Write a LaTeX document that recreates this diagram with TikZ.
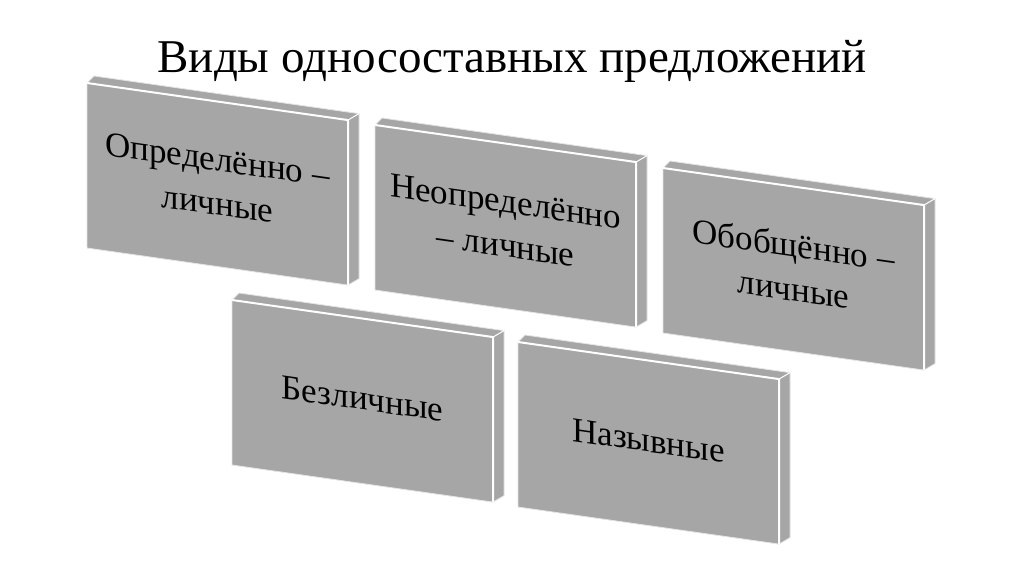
\documentclass[tikz,border=0pt]{standalone}
\usepackage{fontspec}
\setmainfont{Liberation Serif}
\newfontfamily\slabfont{Liberation Serif}
\definecolor{slabgray}{HTML}{A6A6A6}
\definecolor{edgegray}{HTML}{E4E4E4}
\newcommand\drawslab[4]{%
  \begin{scope}[shift={(#2,#3)}, yslant=-0.142]
    \fill[slabgray] (0,0) -- (7,-8) -- (272,-8) -- (261,0) -- cycle;
    \fill[slabgray] (261,0) -- (272,-8) -- (272,157) -- (261,165) -- cycle;
    \fill[slabgray] (0,0) rectangle (261,165);
    \draw[edgegray, line width=0.8pt] (0,165) -- (0,0) -- (7,-8) -- (272,-8) -- (272,157) -- (261,165) -- cycle;
    \draw[white, line width=2pt] (0,0) -- (261,0) -- (261,165);
    \draw[white, line width=1pt] (261,0) -- (272,-8);
    \node[slabtext, transform shape] (#1) at (130.5,80) {#4};
  \end{scope}}
\begin{document}
\begin{tikzpicture}[x=1pt, y=-1pt,
  slabtext/.style={align=center, text=black, font=\slabfont\fontsize{35}{44}\selectfont, inner sep=0pt},
  titletext/.style={text=black, font=\rmfamily\fontsize{47}{56}\selectfont, inner sep=0pt}]
  \useasboundingbox[fill=white] (0,0) rectangle (1024,574);
  \node[titletext, anchor=base] (title) at (512,72) {Виды односоставных предложений};
  \drawslab{b1}{87}{83}{Определённо –\\личные}
  \drawslab{b2}{375}{125}{Неопределённо\\– личные}
  \drawslab{b3}{663}{168}{Обобщённо –\\личные}
  \drawslab{b4}{232}{300}{Безличные}
  \drawslab{b5}{518}{342}{Назывные}
\end{tikzpicture}
\end{document}
